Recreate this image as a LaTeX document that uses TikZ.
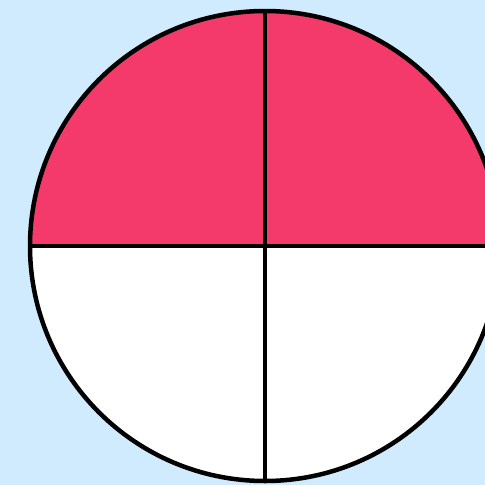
\documentclass[tikz,border=0pt]{standalone}
\usepackage{tikz}
\definecolor{skyback}{HTML}{D0EBFD}
\definecolor{piepink}{HTML}{F43A6B}
\begin{document}
\begin{tikzpicture}[x=1pt, y=-1pt, line width=4.5pt]
        % Background
        \fill[skyback] (0,0) rectangle (485,485);
        \useasboundingbox (0,0) rectangle (485,485);
        \clip (0,0) rectangle (485,485);
        % Circle cut into quarters, top half shaded
        \coordinate (ctr) at (265,246);
        \fill[white] (ctr) circle (235);
        \fill[piepink] ([xshift=-235pt]ctr) arc[start angle=180, end angle=360, radius=235] -- cycle;
        \draw (ctr) circle (235);
        \draw ([xshift=-235pt]ctr) -- ([xshift=235pt]ctr);
        \draw ([yshift=-235pt]ctr) -- ([yshift=235pt]ctr);
      \end{tikzpicture}
\end{document}
